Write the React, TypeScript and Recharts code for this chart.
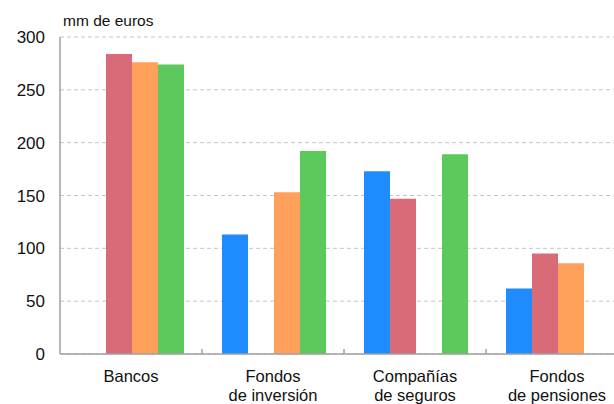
import React from 'react';
import { BarChart, Bar, XAxis, YAxis, CartesianGrid } from 'recharts';

const categories = ['Bancos', 'Fondos\nde inversión', 'Compañías\nde seguros', 'Fondos\nde pensiones'];
const seriesBlue = [null, 113, 173, 62];
const seriesRed = [284, null, 147, 95];
const seriesOrange = [276, 153, null, 86];
const seriesGreen = [274, 192, 189, null];
const yTicks = [0, 50, 100, 150, 200, 250, 300];
const unitLabel = 'mm de euros';

const data = categories.map((c, i) => ({
  name: c,
  blue: seriesBlue[i],
  red: seriesRed[i],
  orange: seriesOrange[i],
  green: seriesGreen[i],
}));

const FONT = '"Liberation Sans", Arial, Helvetica, sans-serif';

const CatTick = (props: any) => {
  const { x, y, payload, index } = props;
  const lines = String(payload.value).split('\n');
  const half = payload && typeof payload.offset === 'number' ? payload.offset : 0;
  return (
    <g>
      {index > 0 && half > 0 ? (
        <line x1={x - half} x2={x - half} y1={y} y2={y - 5} stroke="#a0a0a0" strokeWidth={1.5} />
      ) : null}
      <text x={x} y={y} textAnchor="middle" fontFamily={FONT} fontSize={16.5} fill="#111">
        {lines.map((l, i) => (
          <tspan key={i} x={x} dy={i === 0 ? 28 : 19}>
            {l}
          </tspan>
        ))}
      </text>
    </g>
  );
};

export default function App() {
  return (
    <div style={{ position: 'fixed', left: 0, top: 0, width: 614, height: 404, overflow: 'hidden', background: '#fff' }}>
      <BarChart
        width={636}
        height={404}
        data={data}
        margin={{ top: 37, right: 8, left: 0, bottom: 0 }}
        barGap={0}
        barCategoryGap={20}
      >
        <CartesianGrid vertical={false} stroke="#c4c4c4" strokeDasharray="4 3" />
        <XAxis
          dataKey="name"
          height={50}
          axisLine={{ stroke: '#a0a0a0', strokeWidth: 1.5 }}
          tickLine={false}
          tickSize={0}
          tickMargin={0}
          tick={<CatTick />}
          interval={0}
        />
        <YAxis
          width={60}
          domain={[0, 300]}
          ticks={yTicks}
          axisLine={{ stroke: '#a0a0a0', strokeWidth: 1.5 }}
          tickLine={false}
          tickSize={0}
          tickMargin={15}
          tick={{ fontFamily: FONT, fontSize: 17, fill: '#111' }}
          label={{
            content: (p: any) => {
              const vb = p.viewBox || { x: 0, y: 37, width: 60 };
              return (
                <text x={vb.x + vb.width + 3} y={vb.y - 11} fontFamily={FONT} fontSize={15.5} fill="#111">
                  {unitLabel}
                </text>
              );
            },
          }}
        />
        <Bar dataKey="blue" fill="#1E8CFF" isAnimationActive={false} />
        <Bar dataKey="red" fill="#D96B79" isAnimationActive={false} />
        <Bar dataKey="orange" fill="#FFA15A" isAnimationActive={false} />
        <Bar dataKey="green" fill="#5CC95D" isAnimationActive={false} />
      </BarChart>
    </div>
  );
}
